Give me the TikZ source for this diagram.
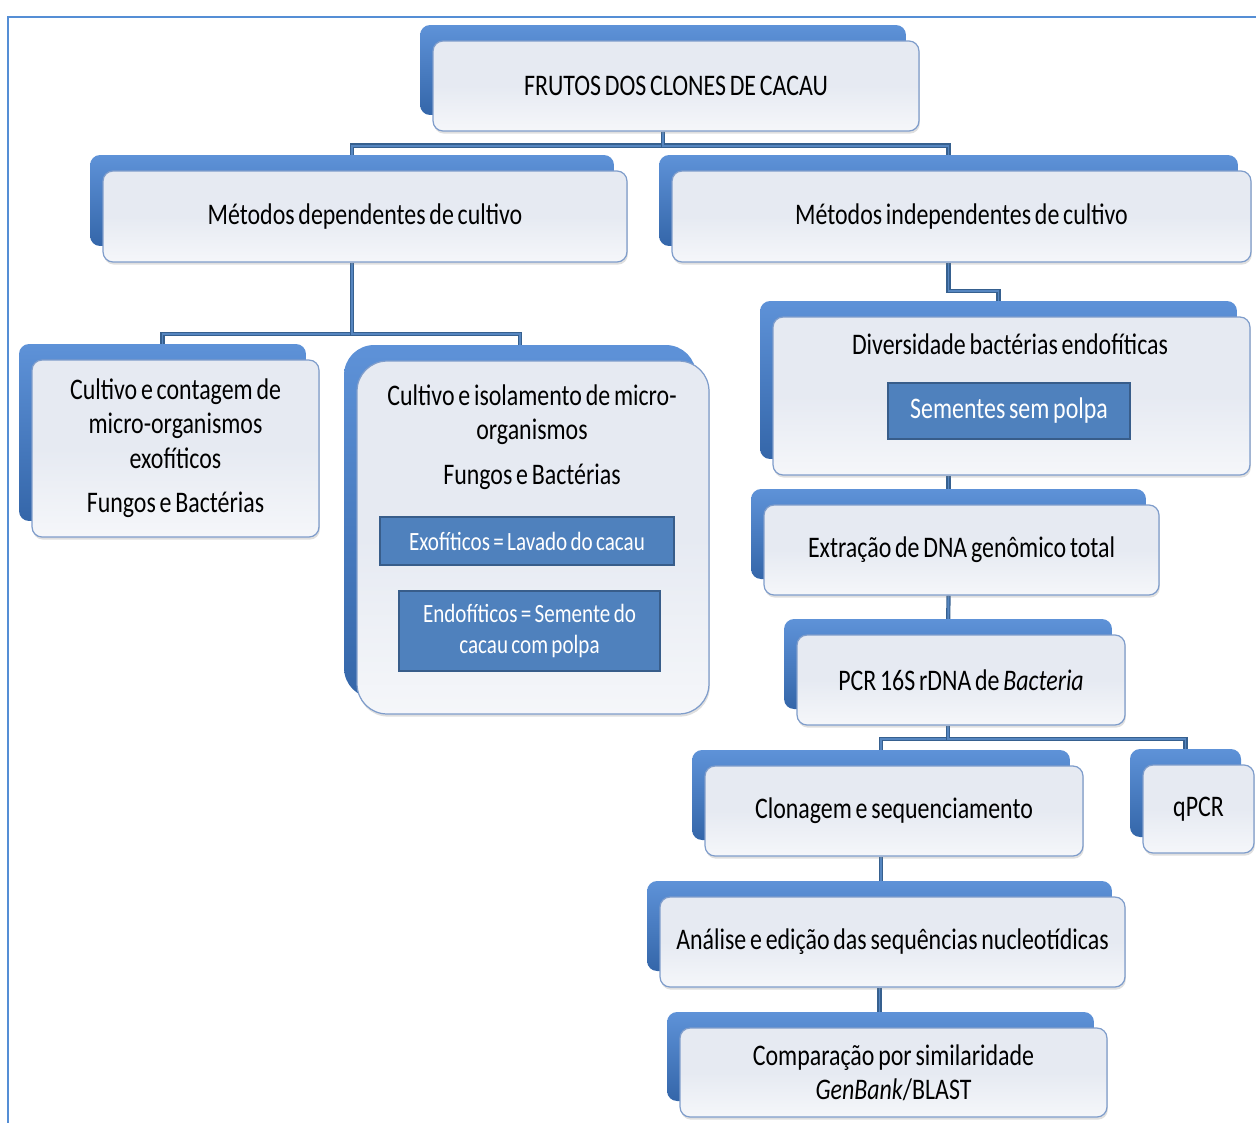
\documentclass[tikz,border=0pt]{standalone}
\usepackage{fontspec}
\setmainfont{Carlito}[FakeStretch=0.8,WordSpace=0.7]
\usepackage{xcolor}
\usepackage{tikz}
\usetikzlibrary{positioning,calc,backgrounds,shadows}
\definecolor{backTop}{HTML}{5E92D8}
\definecolor{backBot}{HTML}{3466A9}
\definecolor{frontFill}{HTML}{E6EAF2}
\definecolor{frontEdge}{HTML}{7F9DCB}
\definecolor{innBlue}{HTML}{4F81BD}
\definecolor{innEdge}{HTML}{385D8A}
\definecolor{lnDark}{HTML}{36608F}
\definecolor{lnLight}{HTML}{5686C0}
\definecolor{frameBlue}{HTML}{558ED5}

\begin{document}
\begin{tikzpicture}[x=0.02cm, y=-0.02cm,
  font=\fontsize{17}{19.5}\selectfont,
  cbox/.style={rounded corners=0.2cm, inner sep=0pt, align=center,
    preaction={top color=backTop, bottom color=backBot,
      transform canvas={xshift=-0.26cm, yshift=0.32cm}},
    drop shadow={opacity=0.25, shadow xshift=0.5pt, shadow yshift=-1.5pt},
    top color=frontFill, bottom color=frontFill!40!white, middle color=frontFill,
    draw=frontEdge, line width=0.7pt},
  ibox/.style={fill=innBlue, draw=innEdge, line width=1.3pt, inner sep=0pt,
    align=center, text=white, font=\fontsize{15}{17.5}\selectfont},
  conn/.style={draw=lnDark, line width=0.65pt, double=lnLight, double distance=1.1pt}]
\useasboundingbox (0,0) rectangle (1256,1122);
\draw[frameBlue, line width=1.2pt] (8,1125) -- (8,17) -- (1260,17);
% --- upper levels ---
  \node[cbox, minimum width=9.72cm, minimum height=1.8cm] (frutos) at (676,86) {FRUTOS DOS CLONES DE CACAU};
  \node[cbox, minimum width=10.48cm, minimum height=1.82cm] (dep) at (365,216.5) {Métodos dependentes de cultivo};
  \node[cbox, minimum width=11.58cm, minimum height=1.82cm] (indep) at (961.5,216.5) {Métodos independentes de cultivo};
% --- culture based ---
  \node[cbox, minimum width=5.74cm, minimum height=3.54cm] (cont) at (175.5,448.5) {Cultivo e contagem de\\micro-organismos\\exofíticos\\[6pt]Fungos e Bactérias};
  \node[cbox, rounded corners=0.6cm, minimum width=7.04cm, minimum height=7.06cm] (iso) at (533,537.5) {};
  \node[align=center] (isoT) at (532,437) {Cultivo e isolamento de micro-\\organismos\\[6pt]Fungos e Bactérias};
  \node[ibox, minimum width=5.88cm, minimum height=0.96cm] (exo) at (527,541) {Exofíticos = Lavado do cacau};
  \node[ibox, minimum width=5.22cm, minimum height=1.6cm] (endo) at (529.5,631) {Endofíticos = Semente do\\cacau com polpa};
% --- culture independent ---
  \node[cbox, minimum width=9.54cm, minimum height=3.16cm] (div) at (1011.5,396) {};
  \node (divT) at (1010,344) {Diversidade bactérias endofíticas};
  \node[ibox, font=\fontsize{17}{19.5}\selectfont, minimum width=4.84cm, minimum height=1.12cm] (sem) at (1009,411) {Sementes sem polpa};
  \node[cbox, minimum width=7.9cm, minimum height=1.8cm] (ext) at (961.5,550) {Extração de DNA genômico total};
  \node[cbox, minimum width=6.56cm, minimum height=1.8cm] (pcr) at (961,680) {PCR 16S rDNA de \textit{Bacteria}};
  \node[cbox, minimum width=7.56cm, minimum height=1.8cm] (clon) at (894,811) {Clonagem e sequenciamento};
  \node[cbox, minimum width=2.22cm, minimum height=1.76cm] (qpcr) at (1198.5,809) {qPCR};
  \node[cbox, minimum width=9.3cm, minimum height=1.8cm] (anal) at (892.5,942) {Análise e edição das sequências nucleotídicas};
  \node[cbox, minimum width=8.54cm, minimum height=1.78cm] (comp) at (893.5,1072.5) {Comparação por similaridade\\\textit{GenBank}/BLAST};
% --- connectors ---
\begin{scope}[on background layer]
  \draw[conn] ([xshift=-0.26cm]frutos.south) -- ++(0,14) -| ([xshift=-0.26cm]dep.north);
  \draw[conn] ([xshift=-0.26cm]frutos.south) -- ++(0,14) -| ([xshift=-0.26cm]indep.north);
  \draw[conn] ([xshift=-0.26cm]dep.south) -- ++(0,71) -| ([xshift=-0.26cm]cont.north);
  \draw[conn] ([xshift=-0.26cm]dep.south) -- ++(0,71) -| ([xshift=-0.26cm]iso.north);
  \draw[conn] ([xshift=-0.26cm]indep.south) -- ++(0,28) -| ([xshift=-0.26cm]div.north);
  \draw[conn] ([xshift=-0.26cm]ext.north |- div.south) -- ([xshift=-0.26cm]ext.north);
  \draw[conn] ([xshift=-0.26cm]ext.south) -- ([xshift=-0.26cm]pcr.north);
  \draw[conn] ([xshift=-0.26cm]pcr.south) -- ++(0,13) -| ([xshift=-0.26cm]clon.north);
  \draw[conn] ([xshift=-0.26cm]pcr.south) -- ++(0,13) -| ([xshift=-0.26cm]qpcr.north);
  \draw[conn] ([xshift=-0.26cm]clon.south) -- ([xshift=-0.26cm]clon.south |- anal.north);
  \draw[conn] ([xshift=-0.26cm]anal.south) -- ([xshift=-0.26cm]anal.south |- comp.north);
\end{scope}
\end{tikzpicture}
\end{document}
